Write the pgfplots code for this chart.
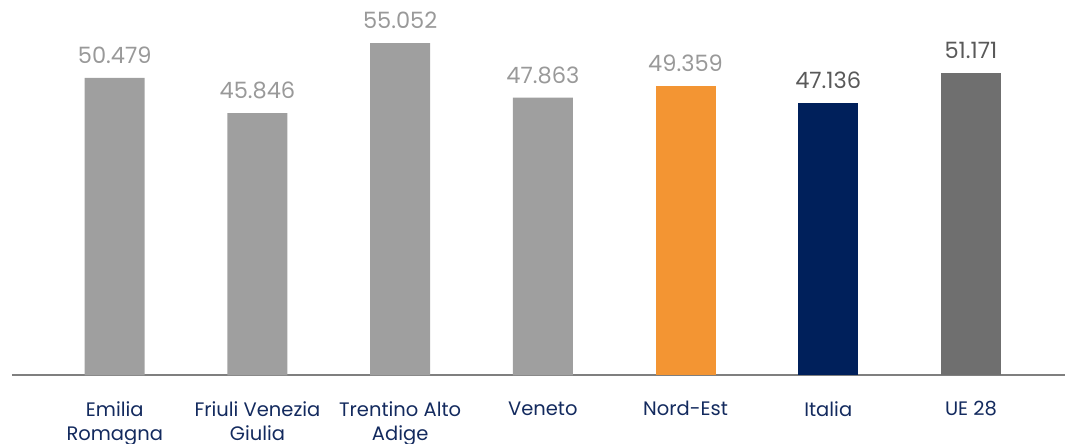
\documentclass[border=0pt]{standalone}
\usepackage{fontspec}
\setmainfont{Poppins}
\usepackage{pgfplots}
\pgfplotsset{compat=1.18}
\definecolor{barGray}{HTML}{9F9F9F}
\definecolor{barOrange}{HTML}{F39533}
\definecolor{barNavy}{HTML}{00205B}
\definecolor{barDark}{HTML}{6F6F6F}
\definecolor{catBlue}{HTML}{132A5E}
\definecolor{valGray}{HTML}{999999}
\definecolor{valDark}{HTML}{595959}
\definecolor{axGray}{HTML}{7F7F7F}
\begin{document}
\begin{tikzpicture}
\useasboundingbox (0,0) rectangle (1065pt,444pt);
\begin{axis}[
 at={(12pt,68.7pt)}, anchor=south west,
 scale only axis, width=1053pt, height=375.3pt,
 xmin=-0.72, xmax=6.659, ymin=11.35, ymax=60.71,
 ybar, bar width=60pt, bar shift=0pt,
 axis x line*=bottom, axis y line=none,
 x axis line style={draw=axGray, line width=2pt},
 xtick={0,...,6},
 xticklabels={{Emilia\\Romagna},{Friuli Venezia\\Giulia},{Trentino Alto\\Adige},Veneto,Nord-Est,Italia,UE 28},
 major tick length=0pt,
 xticklabel style={font=\fontsize{19.5}{24.5}\selectfont, text=catBlue, align=center, anchor=north, inner sep=0pt, yshift=-26pt},
 ytick=\empty,
 point meta=explicit symbolic,
 nodes near coords,
 every node near coord/.append style={font=\fontsize{22.5}{26}\selectfont, anchor=base, inner sep=0pt, yshift=14.5pt},
]
\addplot[fill=barGray, draw=none, every node near coord/.append style={text=valGray}] coordinates {
 (0,50.479) [50.479]
 (1,45.846) [45.846]
 (2,55.052) [55.052]
 (3,47.863) [47.863]
};
\addplot[fill=barOrange, draw=none, every node near coord/.append style={text=valGray}] coordinates {
 (4,49.359) [49.359]
};
\addplot[fill=barNavy, draw=none, every node near coord/.append style={text=valDark}] coordinates {
 (5,47.136) [47.136]
};
\addplot[fill=barDark, draw=none, every node near coord/.append style={text=valDark}] coordinates {
 (6,51.171) [51.171]
};
\end{axis}
\end{tikzpicture}
\end{document}
